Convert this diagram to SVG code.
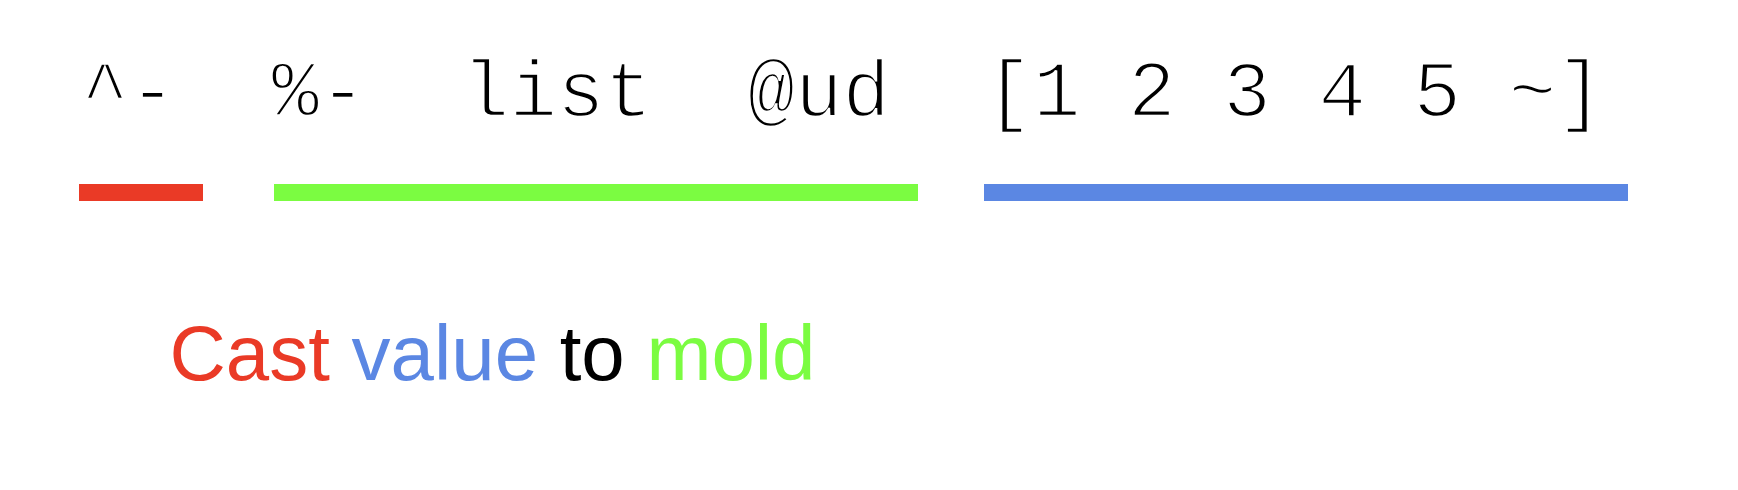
<svg xmlns="http://www.w3.org/2000/svg" width="1738" height="490" viewBox="0 0 1738 490">
<style>
.code{font-family:"Liberation Mono","Courier New",monospace;font-size:79.3px;fill:#000;stroke:#fff;stroke-width:2.4px;white-space:pre}
.cap{font-family:"Liberation Sans",Arial,sans-serif;font-size:78px}
.red{fill:#EA3A26}.green{fill:#7BFC41}.blue{fill:#5B87E3}.black{fill:#000}
</style>
<rect width="1738" height="490" fill="#fff"/>
<g id="code">
<text class="code" x="81.2" y="116" xml:space="preserve">^-  %-  list  @ud  [1 2 3 4 5 ~]</text>
</g>
<g id="bars">
<rect id="bar-cast" class="red" x="79" y="184" width="124" height="17"/>
<rect id="bar-mold" class="green" x="274" y="184" width="644" height="17"/>
<rect id="bar-value" class="blue" x="984" y="184" width="644" height="17"/>
</g>
<g id="caption">
<text class="cap" x="169.5" y="380"><tspan class="red">Cast</tspan> <tspan class="blue">value</tspan> <tspan class="black">to</tspan> <tspan class="green">mold</tspan></text>
</g>
</svg>
